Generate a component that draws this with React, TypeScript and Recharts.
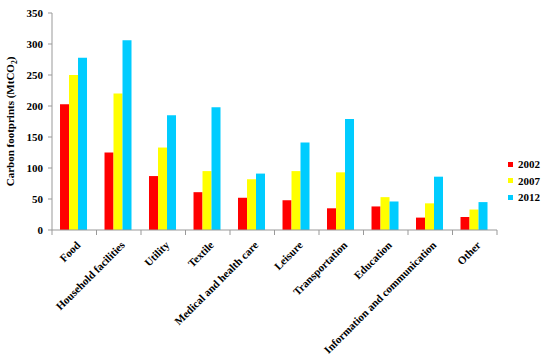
import React from "react";
import { BarChart, Bar, XAxis, YAxis } from "recharts";

const categories = [
  "Food",
  "Household facilities",
  "Utility",
  "Textile",
  "Medical and health care",
  "Leisure",
  "Transportation",
  "Education",
  "Information and communication",
  "Other",
];
const y2002 = [203, 125, 87, 61, 52, 48, 35, 38, 20, 21];
const y2007 = [250, 220, 133, 95, 82, 95, 93, 53, 43, 33];
const y2012 = [278, 306, 185, 198, 91, 141, 179, 46, 86, 45];
const yTicks = [0, 50, 100, 150, 200, 250, 300, 350];

const series = [
  { key: "2002", color: "#FF0000" },
  { key: "2007", color: "#FFFF00" },
  { key: "2012", color: "#00CCFF" },
];

const data = categories.map((name, i) => ({
  name,
  "2002": y2002[i],
  "2007": y2007[i],
  "2012": y2012[i],
}));

const W = 550;
const H = 359;
const LEFT = 52;
const RIGHT = 53;
const FONT = "'Liberation Serif', 'Times New Roman', Times, serif";
const halfBand = (W - LEFT - RIGHT) / categories.length / 2;

const CategoryTick = (props: any) => {
  const { x, y, payload, index } = props;
  return (
    <g>
      <line x1={x + halfBand} y1={y - 8} x2={x + halfBand} y2={y - 3} stroke="#999" />
      {index === 0 && (
        <line x1={x - halfBand} y1={y - 8} x2={x - halfBand} y2={y - 3} stroke="#999" />
      )}
      <text
        x={0}
        y={0}
        transform={`translate(${x + 4},${y + 5}) rotate(-45)`}
        textAnchor="end"
        dominantBaseline="central"
        style={{ fontFamily: FONT, fontWeight: "bold", fontSize: 11 }}
        fill="#000"
      >
        {payload.value}
      </text>
    </g>
  );
};

const YLabel = () => (
  <text
    transform={`translate(14,${(13 + 230) / 2}) rotate(-90)`}
    textAnchor="middle"
    style={{ fontFamily: FONT, fontWeight: "bold", fontSize: 11 }}
    fill="#000"
  >
    Carbon footprints (MtCO
    <tspan style={{ fontSize: 7.5 }} dy={3}>2</tspan>
    <tspan dy={-3}>)</tspan>
  </text>
);

export default function App() {
  return (
    <div style={{ position: "absolute", left: 0, top: 0, width: W, height: H, background: "#fff" }}>
      <BarChart
        width={W}
        height={H}
        data={data}
        margin={{ top: 13, right: RIGHT, left: 0, bottom: 0 }}
        barCategoryGap="18%"
        barGap={0}
      >
        <XAxis
          dataKey="name"
          height={129}
          interval={0}
          tickLine={false}
          axisLine={{ stroke: "#999" }}
          tick={<CategoryTick />}
        />
        <YAxis
          width={LEFT}
          domain={[0, 350]}
          ticks={yTicks}
          interval={0}
          axisLine={{ stroke: "#999" }}
          tickLine={{ stroke: "#999" }}
          tickSize={4}
          tickMargin={5}
          tick={{ style: { fontFamily: FONT, fontWeight: "bold", fontSize: 11 }, fill: "#000" }}
          label={<YLabel />}
        />
        {series.map((s) => (
          <Bar key={s.key} dataKey={s.key} fill={s.color} isAnimationActive={false} />
        ))}
      </BarChart>
      <div style={{ position: "absolute", left: 508, top: 156, fontFamily: FONT, fontWeight: "bold", fontSize: 11 }}>
        {series.map((s) => (
          <div key={s.key} style={{ display: "flex", alignItems: "center", height: 16.5 }}>
            <span style={{ display: "inline-block", width: 5, height: 5, background: s.color, marginRight: 5 }} />
            <span style={{ color: "#000" }}>{s.key}</span>
          </div>
        ))}
      </div>
    </div>
  );
}
